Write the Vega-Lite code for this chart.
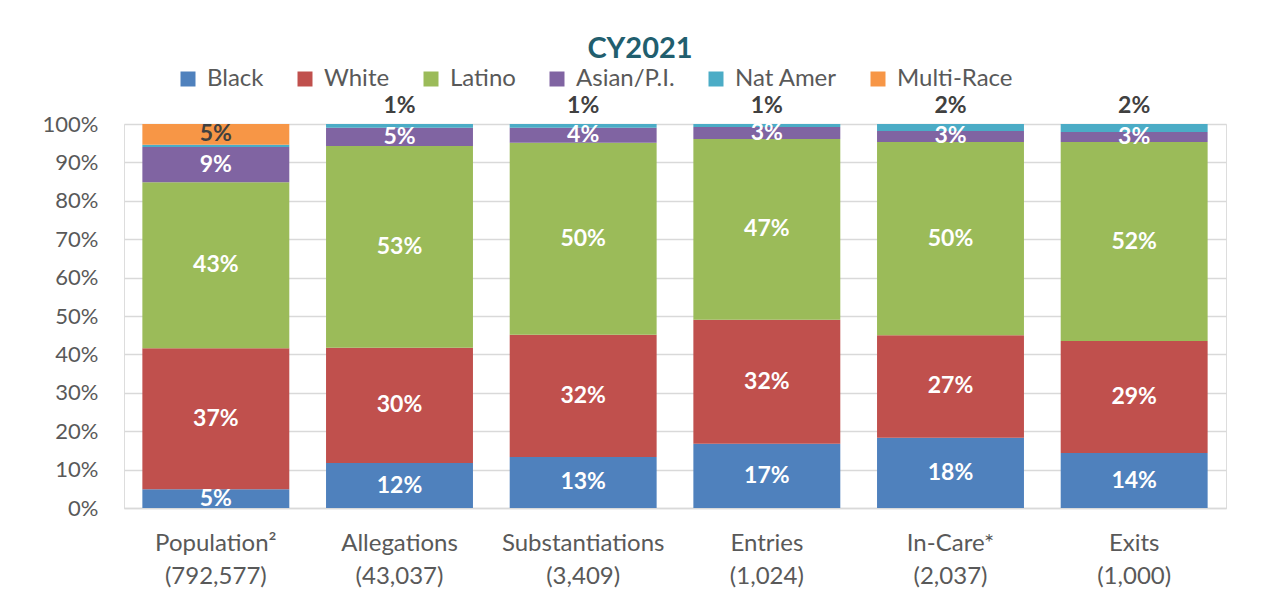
{
  "$schema": "https://vega.github.io/schema/vega-lite/v6.json",
  "width": 1102,
  "height": 384,
  "autosize": {"type": "none"},
  "padding": {"left": 124, "top": 124, "right": 53, "bottom": 93},
  "background": "white",
  "title": {"text": "CY2021", "fontSize": 29, "fontWeight": "bold", "color": "#215E6E", "font": "Lato", "anchor": "middle", "dx": -35, "frame": "group", "offset": 3},
  "data": {"values": [
    {"cat": "Population² (792,577)", "race": "Black", "o": 1, "v": 0.049},
    {"cat": "Population² (792,577)", "race": "White", "o": 2, "v": 0.367},
    {"cat": "Population² (792,577)", "race": "Latino", "o": 3, "v": 0.432},
    {"cat": "Population² (792,577)", "race": "Asian/P.I.", "o": 4, "v": 0.092},
    {"cat": "Population² (792,577)", "race": "Nat Amer", "o": 5, "v": 0.006},
    {"cat": "Population² (792,577)", "race": "Multi-Race", "o": 6, "v": 0.054},
    {"cat": "Allegations (43,037)", "race": "Black", "o": 1, "v": 0.117},
    {"cat": "Allegations (43,037)", "race": "White", "o": 2, "v": 0.300},
    {"cat": "Allegations (43,037)", "race": "Latino", "o": 3, "v": 0.526},
    {"cat": "Allegations (43,037)", "race": "Asian/P.I.", "o": 4, "v": 0.047},
    {"cat": "Allegations (43,037)", "race": "Nat Amer", "o": 5, "v": 0.010},
    {"cat": "Substantiations (3,409)", "race": "Black", "o": 1, "v": 0.133},
    {"cat": "Substantiations (3,409)", "race": "White", "o": 2, "v": 0.318},
    {"cat": "Substantiations (3,409)", "race": "Latino", "o": 3, "v": 0.500},
    {"cat": "Substantiations (3,409)", "race": "Asian/P.I.", "o": 4, "v": 0.039},
    {"cat": "Substantiations (3,409)", "race": "Nat Amer", "o": 5, "v": 0.010},
    {"cat": "Entries (1,024)", "race": "Black", "o": 1, "v": 0.167},
    {"cat": "Entries (1,024)", "race": "White", "o": 2, "v": 0.323},
    {"cat": "Entries (1,024)", "race": "Latino", "o": 3, "v": 0.471},
    {"cat": "Entries (1,024)", "race": "Asian/P.I.", "o": 4, "v": 0.031},
    {"cat": "Entries (1,024)", "race": "Nat Amer", "o": 5, "v": 0.008},
    {"cat": "In-Care* (2,037)", "race": "Black", "o": 1, "v": 0.183},
    {"cat": "In-Care* (2,037)", "race": "White", "o": 2, "v": 0.267},
    {"cat": "In-Care* (2,037)", "race": "Latino", "o": 3, "v": 0.503},
    {"cat": "In-Care* (2,037)", "race": "Asian/P.I.", "o": 4, "v": 0.029},
    {"cat": "In-Care* (2,037)", "race": "Nat Amer", "o": 5, "v": 0.018},
    {"cat": "Exits (1,000)", "race": "Black", "o": 1, "v": 0.143},
    {"cat": "Exits (1,000)", "race": "White", "o": 2, "v": 0.292},
    {"cat": "Exits (1,000)", "race": "Latino", "o": 3, "v": 0.518},
    {"cat": "Exits (1,000)", "race": "Asian/P.I.", "o": 4, "v": 0.026},
    {"cat": "Exits (1,000)", "race": "Nat Amer", "o": 5, "v": 0.021}
  ]},
  "config": {
    "axisY": {"labelFontSize": 22, "labelColor": "#595959", "labelFont": "Lato", "labelPadding": 26, "ticks": false, "domain": false, "gridColor": "#D9D9D9", "gridWidth": 1.5, "title": null}
  },
  "encoding": {
    "x": {"field": "cat", "type": "nominal", "sort": null,
      "scale": {"paddingInner": 0.2, "paddingOuter": 0.1},
      "axis": {"title": null, "labelAngle": 0, "labelExpr": "split(datum.label, ' ')", "labelFontSize": 24, "labelColor": "#595959", "labelFont": "Lato", "labelLineHeight": 33, "labelPadding": 23, "ticks": false, "domainColor": "#D9D9D9", "domainWidth": 1.5}}
  },
  "layer": [
    {
      "mark": {"type": "bar"},
      "encoding": {
        "y": {"field": "v", "type": "quantitative", "stack": "zero", "scale": {"domain": [0, 1], "nice": false},
          "axis": {"title": null, "values": [0,0.1,0.2,0.3,0.4,0.5,0.6,0.7,0.8,0.9,1], "format": ".0%"}},
        "color": {"field": "race", "type": "nominal",
          "scale": {"domain": ["Black", "White", "Latino", "Asian/P.I.", "Nat Amer", "Multi-Race"], "range": ["#4F81BD", "#C0504D", "#9BBB59", "#8064A2", "#4BACC6", "#F79646"]},
          "legend": {"title": null, "orient": "none", "legendX": 52, "legendY": -57, "direction": "horizontal", "symbolType": "square", "symbolSize": 225, "symbolStrokeWidth": 0, "labelFontSize": 24, "labelFont": "Lato", "labelColor": "#595959", "columnPadding": 29, "labelOffset": 7}},
        "order": {"field": "o", "type": "quantitative"}
      }
    },
    {
      "transform": [
        {"stack": "v", "groupby": ["cat"], "sort": [{"field": "o", "order": "ascending"}], "as": ["v0", "v1"]},
        {"calculate": "(datum.v0 + datum.v1) / 2", "as": "vmid"},
        {"filter": "datum.race != 'Nat Amer'"}
      ],
      "mark": {"type": "text", "fontSize": 23, "fontWeight": "bold", "font": "Lato", "baseline": "middle"},
      "encoding": {
        "y": {"field": "vmid", "type": "quantitative",
          "axis": {"title": null, "values": [0,0.1,0.2,0.3,0.4,0.5,0.6,0.7,0.8,0.9,1], "format": ".0%"}},
        "text": {"field": "v", "type": "quantitative", "format": ".0%"},
        "color": {"condition": {"test": "datum.race == 'Multi-Race'", "value": "#404040"}, "value": "white"}
      }
    },
    {
      "transform": [{"filter": "datum.race == 'Nat Amer' && datum.cat != 'Population² (792,577)'"}],
      "mark": {"type": "text", "fontSize": 23, "fontWeight": "bold", "font": "Lato", "baseline": "alphabetic", "dy": -11, "color": "#404040"},
      "encoding": {
        "y": {"datum": 1, "type": "quantitative",
          "axis": {"title": null, "values": [0,0.1,0.2,0.3,0.4,0.5,0.6,0.7,0.8,0.9,1], "format": ".0%"}},
        "text": {"field": "v", "type": "quantitative", "format": ".0%"}
      }
    }
  ]
}
